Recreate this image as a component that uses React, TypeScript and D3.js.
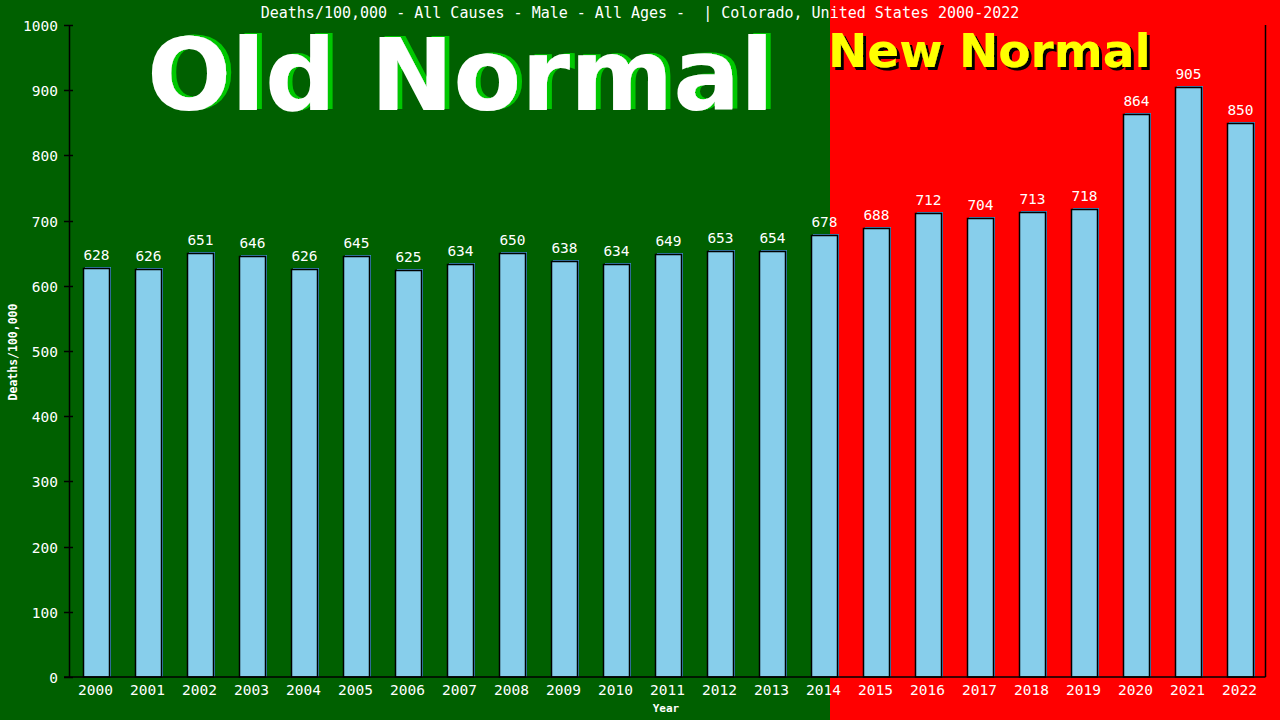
import { useEffect, useRef } from "react"
import * as d3 from "d3"

const years = [
  "2000", "2001", "2002", "2003", "2004", "2005", "2006", "2007", "2008", "2009", "2010", "2011",
  "2012", "2013", "2014", "2015", "2016", "2017", "2018", "2019", "2020", "2021", "2022",
]
const deathRates = [
  628, 626, 651, 646, 626, 645, 625, 634, 650, 638, 634, 649,
  653, 654, 678, 688, 712, 704, 713, 718, 864, 905, 850,
]
const yTicks = [0, 100, 200, 300, 400, 500, 600, 700, 800, 900, 1000]
const chartTitle = "Deaths/100,000 - All Causes - Male - All Ages -  | Colorado, United States 2000-2022"

export default function App() {
  const svgRef = useRef<SVGSVGElement>(null)

  useEffect(() => {
    if (!svgRef.current) return
    document.body.style.margin = "0"

    const svg = d3.select(svgRef.current)
    svg.selectAll("*").remove()

    const width = 1280
    const height = 720
    const margin = { left: 69.5, right: 14.5, top: 25, bottom: 43 }
    const mono = "'DejaVu Sans Mono', monospace"

    // Shadow filters for the big labels
    const defs = svg.append("defs")
    defs
      .append("filter")
      .attr("id", "greenShadow")
      .attr("x", "-5%")
      .attr("y", "-10%")
      .attr("width", "110%")
      .attr("height", "120%")
      .append("feDropShadow")
      .attr("dx", 5)
      .attr("dy", -1)
      .attr("stdDeviation", 0)
      .attr("flood-color", "#00c800")
      .attr("flood-opacity", 1)
    defs
      .append("filter")
      .attr("id", "blackShadow")
      .attr("x", "-5%")
      .attr("y", "-10%")
      .attr("width", "110%")
      .attr("height", "130%")
      .append("feDropShadow")
      .attr("dx", 3)
      .attr("dy", 3)
      .attr("stdDeviation", 0)
      .attr("flood-color", "black")
      .attr("flood-opacity", 1)

    // Background halves: old normal (green) / new normal (red)
    const splitX = 830
    svg.append("rect").attr("width", splitX).attr("height", height).attr("fill", "#006000")
    svg.append("rect").attr("x", splitX).attr("width", width - splitX).attr("height", height).attr("fill", "#ff0000")

    // Big labels
    svg
      .append("text")
      .attr("x", 147)
      .attr("y", 110)
      .attr("fill", "white")
      .attr("filter", "url(#greenShadow)")
      .style("font-family", "'DejaVu Sans', sans-serif")
      .style("font-weight", "bold")
      .style("font-size", "99px")
      .text("Old Normal")

    svg
      .append("text")
      .attr("x", 828)
      .attr("y", 67)
      .attr("fill", "#ffff00")
      .attr("filter", "url(#blackShadow)")
      .style("font-family", "'DejaVu Sans', sans-serif")
      .style("font-weight", "bold")
      .style("font-size", "47px")
      .text("New Normal")

    // Scales
    const x = d3
      .scaleBand<string>()
      .domain(years)
      .range([margin.left, width - margin.right])
      .paddingInner(0.5)
      .paddingOuter(0.25)
    const y = d3
      .scaleLinear()
      .domain([0, 1000])
      .range([height - margin.bottom, margin.top])

    const y0 = y(0)

    // Bars
    const bars = svg.append("g")
    years.forEach((yr, i) => {
      const v = deathRates[i]
      const bx = Math.round(x(yr)!) + 0.5
      const by = Math.round(y(v)) + 0.5
      const bw = Math.round(x.bandwidth())
      bars
        .append("rect")
        .attr("x", bx + 1.5)
        .attr("y", by - 1.5)
        .attr("width", bw)
        .attr("height", y0 - by + 1.5)
        .attr("fill", "#3f8fc8")
      bars
        .append("rect")
        .attr("x", bx)
        .attr("y", by)
        .attr("width", bw)
        .attr("height", y0 - by)
        .attr("fill", "#87ceeb")
        .attr("stroke", "black")
        .attr("stroke-width", 1.5)
      bars
        .append("text")
        .attr("x", bx + bw / 2)
        .attr("y", by - 8.5)
        .attr("text-anchor", "middle")
        .attr("fill", "white")
        .style("font-family", mono)
        .style("font-size", "14.5px")
        .text(v)
    })

    // Axes
    const axisG = svg.append("g").attr("stroke", "black").attr("stroke-width", 1.5)
    axisG.append("line").attr("x1", margin.left).attr("x2", margin.left).attr("y1", margin.top).attr("y2", y0)
    axisG.append("line").attr("x1", 64).attr("x2", width - margin.right).attr("y1", y0).attr("y2", y0)
    axisG
      .append("line")
      .attr("x1", width - margin.right)
      .attr("x2", width - margin.right)
      .attr("y1", margin.top)
      .attr("y2", y0)

    yTicks.forEach((t) => {
      const ty = Math.round(y(t)) + 0.5
      axisG.append("line").attr("x1", 64).attr("x2", 73).attr("y1", ty).attr("y2", ty)
      svg
        .append("text")
        .attr("x", 58)
        .attr("y", ty + 5)
        .attr("text-anchor", "end")
        .attr("fill", "white")
        .style("font-family", mono)
        .style("font-size", "14.5px")
        .text(t)
    })

    years.forEach((yr) => {
      svg
        .append("text")
        .attr("x", x(yr)! + x.bandwidth() / 2)
        .attr("y", 695)
        .attr("text-anchor", "middle")
        .attr("fill", "white")
        .style("font-family", mono)
        .style("font-size", "14.5px")
        .text(yr)
    })

    // Titles
    svg
      .append("text")
      .attr("x", 640)
      .attr("y", 18)
      .attr("text-anchor", "middle")
      .attr("fill", "white")
      .style("font-family", mono)
      .style("font-size", "15px")
      .style("white-space", "pre")
      .text(chartTitle)

    svg
      .append("text")
      .attr("x", 666)
      .attr("y", 712)
      .attr("text-anchor", "middle")
      .attr("fill", "white")
      .style("font-family", mono)
      .style("font-weight", "bold")
      .style("font-size", "11px")
      .text("Year")

    svg
      .append("text")
      .attr("transform", "translate(17, 352) rotate(-90)")
      .attr("text-anchor", "middle")
      .attr("fill", "white")
      .style("font-family", mono)
      .style("font-weight", "bold")
      .style("font-size", "11.5px")
      .text("Deaths/100,000")
  }, [])

  return <svg ref={svgRef} width={1280} height={720} style={{ display: "block" }}></svg>
}
